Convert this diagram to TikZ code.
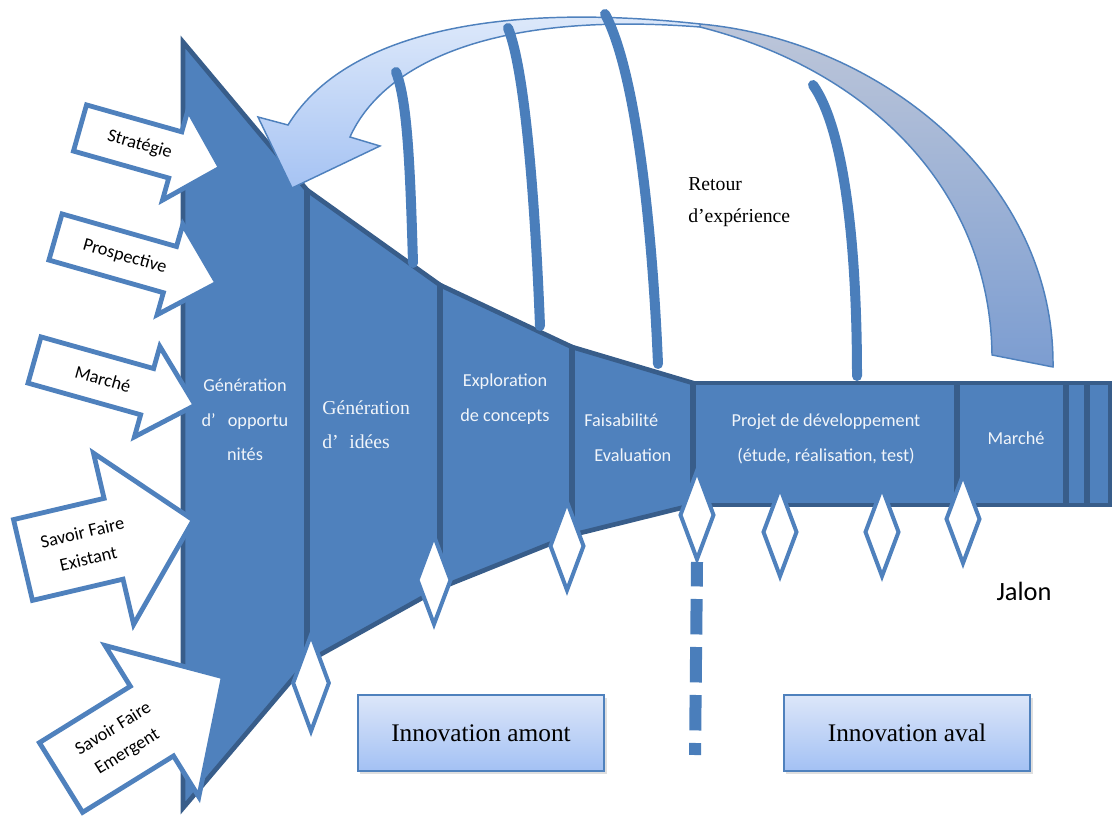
\documentclass[tikz,border=0pt]{standalone}
\usepackage{fontspec}
\setmainfont{Liberation Serif}
\setsansfont{Carlito}
\usepackage{tikz}
\usetikzlibrary{shapes.geometric, shadows}

\definecolor{funnel}{HTML}{4F81BD}
\definecolor{funneledge}{HTML}{385D8A}
\definecolor{retourblue}{HTML}{4A7EBB}
\definecolor{boxtop}{HTML}{DCE6F9}
\definecolor{boxbot}{HTML}{A3C1F4}
\definecolor{backtop}{HTML}{E2ECFB}
\definecolor{backbot}{HTML}{A6C3F3}
\definecolor{tailtop}{HTML}{BDC6D9}
\definecolor{tailbot}{HTML}{7C9DD1}

\begin{document}
\begin{tikzpicture}[x=0.75pt, y=-0.75pt,
	sec/.style={fill=funnel, draw=funneledge, line width=3.5pt, line join=miter},
	divider/.style={draw=funneledge, line width=5pt},
	inarrow/.style={fill=white, draw=funnel, line width=3.6pt, line join=miter},
	arrowtxt/.style={font=\sffamily\fontsize{13.7}{20}\selectfont, align=center, inner sep=0pt},
	steptxt/.style={font=\sffamily\fontsize{13.7}{26}\selectfont, text=white!92!funnel, align=center, inner sep=0pt},
	jalon/.style={diamond, fill=white, draw=funnel, line width=3pt, inner sep=0pt, minimum width=26pt, minimum height=67.5pt},
	retour/.style={draw=retourblue, line width=7.5pt, line cap=round},
	phase/.style={top color=boxtop, bottom color=boxbot, draw=funnel, line width=1.5pt,
		drop shadow={opacity=0.25, shadow xshift=2pt, shadow yshift=-2.5pt},
		minimum width=185pt, minimum height=57pt, font=\rmfamily\fontsize{19}{23}\selectfont}]

	\useasboundingbox (0,0) rectangle (1120,816);

	\coordinate (t0) at (183,42);
	\coordinate (t1) at (307,190);
	\coordinate (t2) at (440,285);
	\coordinate (t3) at (572,347);
	\coordinate (t4) at (693,383);
	\coordinate (b0) at (183,808);
	\coordinate (b1) at (307,662);
	\coordinate (b2) at (440,588);
	\coordinate (b3) at (572,535);
	\coordinate (b4) at (693,505);
	\coordinate (r1) at (1110,505);
	\coordinate (cut) at (695,755);

	% entonnoir
	\draw[sec] (t0) -- (t1) -- (b1) -- (b0) -- cycle;
	\draw[sec] (t1) -- (t2) -- (b2) -- (b1) -- cycle;
	\draw[sec] (t2) -- (t3) -- (b3) -- (b2) -- cycle;
	\draw[sec] (t3) -- (t4) -- (b4) -- (b3) -- cycle;
	\draw[sec] (t4) rectangle (r1);
	\draw[divider] (t1) -- (b1);
	\draw[divider] (t2) -- (b2);
	\draw[divider] (t3) -- (b3);
	\draw[divider] (t4) -- (b4);
	\foreach \x in {957,1066,1087}
		\draw[divider, line width=4pt] (\x,383) -- (\x,505);

	% jalons
	\node[jalon, minimum width=28pt, minimum height=73.5pt] (j1) at (311,683) {};
	\foreach \x/\y [count=\i from 2] in {434/580, 567/546, 697/515, 780/532, 882/532, 963/519}
		\node[jalon] (j\i) at (\x,\y) {};

	\draw[draw=retourblue, line width=9pt, dash pattern=on 26.6pt off 9.4pt, dash phase=8.25pt] (j4.south) -- (cut);

	% entrees
	\foreach \x/\y/\a/\l/\bw/\hw/\hl/\tp/\txt [count=\i] in {
		80/128/-15.8/146/24/47/47/62/{Stratégie},
		55.5/237/-15.9/168/24/47/49/72/{Prospective},
		34.5/360/-15.7/167/24/47/50/71/{Marché},
		23/560/13.2/175/41.5/88/82/64/{Savoir Faire\\Existant},
		61/777.5/31.8/191/41/89/84/70/{Savoir Faire\\Emergent}}
	{
		\begin{scope}[shift={(\x,\y)}, rotate=\a]
			\draw[inarrow] (0,-\bw) -- ({\l-\hl},-\bw) -- ({\l-\hl},-\hw) -- (\l,0) -- ({\l-\hl},\hw) -- ({\l-\hl},\bw) -- (0,\bw) -- cycle;
			\node[arrowtxt, rotate=\a] (in\i) at (\tp,0) {\txt};
		\end{scope}
	}

	% retour d'experience
	\path[draw=funnel, line width=1.1pt, top color=tailtop, bottom color=tailbot]
		(700,24) .. controls (880,40) and (1055,180) .. (1053,367) -- (992,355)
		.. controls (990,190) and (870,70) .. (700,27) -- cycle;
	\path[draw=funnel, line width=1.1pt, top color=backtop, bottom color=backbot]
		(700,24) .. controls (480,0) and (340,40) .. (288,125) -- (258,117) -- (292,188)
		-- (380,146) -- (350,137) .. controls (380,70) and (480,10) .. (700,27) -- cycle;

	\draw[retour] (413,263) .. controls (410,160) and (407,100) .. (396,72);
	\draw[retour] (540,326) .. controls (535,200) and (525,70) .. (508,28);
	\draw[retour] (658,364) .. controls (652,220) and (635,70) .. (605,14);
	\draw[retour] (857,376) .. controls (857,250) and (845,130) .. (813,85);

	% textes
	\node[steptxt] (opport) at (245,420) {Génération\\d’\hspace{9pt}opportu\\nités};
	\node[steptxt, font=\rmfamily\fontsize{14.8}{25.5}\selectfont, align=left, anchor=west] (idees) at (322,425) {Génération\\d’\hspace{8pt}idées};
	\node[steptxt] (explo) at (505,399) {Exploration\\de concepts};
	\node[steptxt, align=left, anchor=west] (faisa) at (584,438) {Faisabilité\\\hspace{7.5pt}Evaluation};
	\node[steptxt] (projet) at (826,439) {Projet de développement\\(étude, réalisation, test)};
	\node[steptxt] (marche) at (1016,438) {Marché};
	\node[font=\rmfamily\fontsize{14.8}{24}\selectfont, align=left, anchor=west, inner sep=0pt] (retour) at (688,202) {Retour\\d’expérience};
	\node[font=\sffamily\fontsize{19.8}{24}\selectfont, inner sep=0pt] (jalon) at (1024,591) {Jalon};
	\node[phase] (amont) at (481,733) {Innovation amont};
	\node[phase] (aval) at (907,733) {Innovation aval};
\end{tikzpicture}
\end{document}
